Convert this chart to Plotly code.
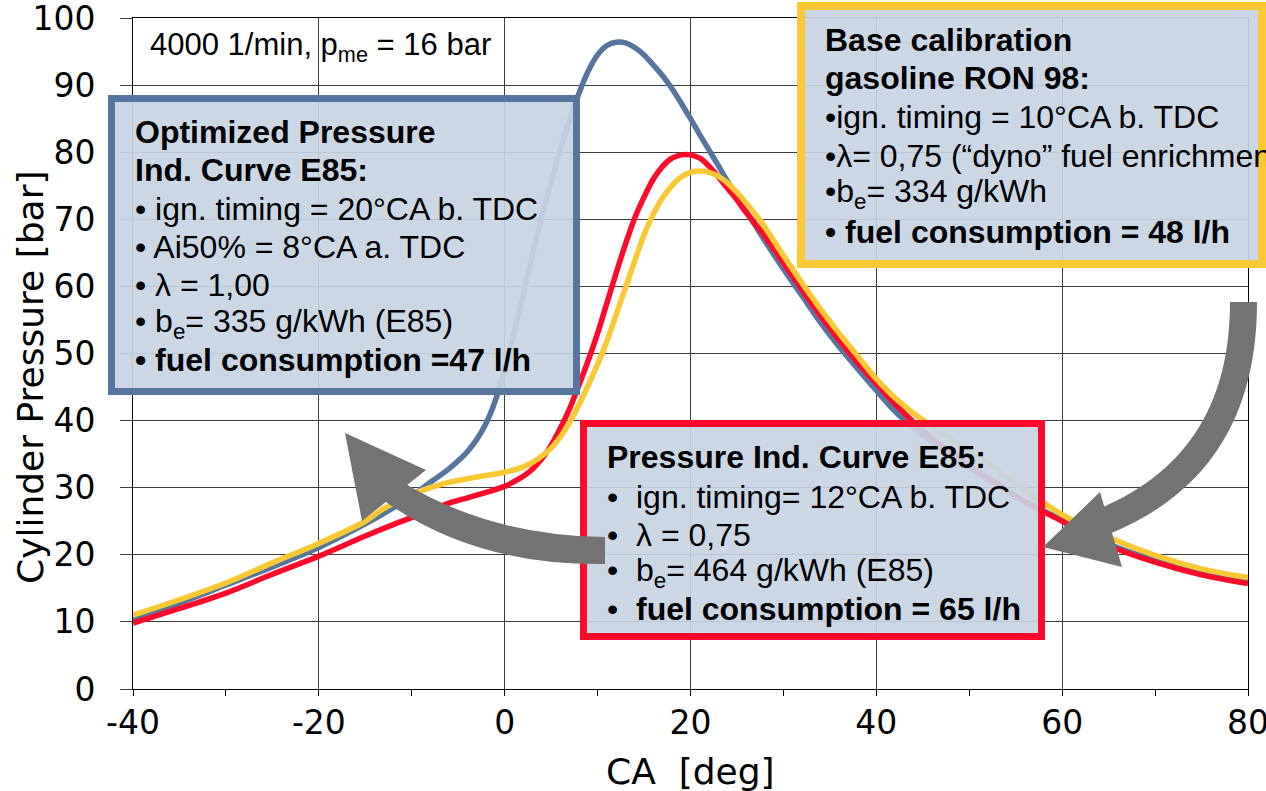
import plotly.graph_objects as go

# Cylinder pressure traces at 4000 1/min, pme = 16 bar
# crank angle [deg] and pressure [bar] per calibration

# Optimized pressure indication curve, E85
ca_opt = [-40, -35, -30, -25, -20, -15, -12, -10, -8, -6, -5, -4, -3, -2, -1, 0, 1, 2, 3, 4,
          5, 6, 7, 8, 9, 10, 11, 12, 13, 14, 15, 16, 17, 18, 19, 20, 21, 22, 23, 24, 25, 26,
          28, 30, 32, 34, 36, 38, 40, 42, 44, 46, 48, 50, 53, 56, 60, 65, 70, 75, 80]
p_opt = [10.3, 12.8, 15.5, 18.2, 21.1, 24.6, 27.0, 28.8, 30.8, 32.8, 34.0, 35.4, 37.2, 39.6,
         43.0, 47.6, 53.0, 58.8, 64.8, 70.4, 75.5, 80.4, 84.9, 88.8, 92.1, 94.5, 95.9, 96.4,
         96.3, 95.6, 94.5, 93.0, 91.4, 89.5, 87.3, 85.0, 82.6, 80.3, 78.0, 75.6, 73.4, 71.2,
         66.8, 62.6, 58.6, 54.6, 51.0, 47.7, 44.5, 41.4, 38.9, 36.8, 34.9, 33.0, 30.4, 27.9,
         25.2, 21.6, 19.2, 17.4, 16.0]

# Pressure indication curve, E85 (lambda 0.75)
ca_e85 = [-40, -35, -30, -25, -20, -15, -12, -8, -6, -4, -2, 0, 1, 2, 3, 4, 5, 6, 7, 8, 9,
          10, 11, 12, 13, 14, 15, 16, 17, 18, 19, 20, 21, 22, 23, 24, 25, 26, 28, 30, 32,
          34, 36, 38, 40, 42, 44, 46, 48, 50, 53, 56, 60, 65, 70, 75, 80]
p_e85 = [9.8, 12.0, 14.3, 17.1, 19.8, 22.8, 24.5, 26.6, 27.7, 28.5, 29.3, 30.2, 30.9, 31.7,
         32.8, 34.3, 36.3, 38.9, 41.8, 45.3, 49.0, 53.0, 57.5, 62.0, 66.3, 70.2, 73.3, 76.0,
         77.9, 79.1, 79.6, 79.6, 79.1, 77.9, 76.3, 74.6, 72.9, 71.0, 67.5, 63.5, 59.5, 55.6,
         52.0, 48.6, 45.5, 42.5, 39.8, 37.4, 35.2, 33.3, 30.6, 27.9, 25.0, 21.4, 18.9, 17.0,
         15.7]

# Base calibration, gasoline RON 98
ca_ron98 = [-40, -35, -30, -25, -20, -15, -13, -10, -8, -6, -3, 0, 2, 3.5, 5, 6.3, 7.5, 8.5,
            9.5, 11, 12, 13, 14, 15, 16, 17, 18, 19, 20, 21, 22, 23, 24, 25, 26, 27.5, 30,
            32, 34, 36, 38, 40, 42, 44, 46, 48, 50, 53, 56, 60, 65, 70, 75, 80]
p_ron98 = [11.0, 13.3, 15.8, 18.8, 21.7, 25.0, 26.9, 29.0, 30.0, 30.8, 31.6, 32.3, 33.1, 34.2,
           35.9, 38.2, 41.0, 43.8, 46.8, 51.8, 55.8, 59.8, 63.8, 67.7, 70.8, 73.2, 75.0, 76.3,
           77.0, 77.2, 77.0, 76.4, 75.4, 74.0, 72.4, 69.8, 64.6, 60.5, 56.6, 53.0, 49.6, 46.2,
           43.4, 41.1, 39.1, 37.2, 35.4, 32.7, 29.6, 26.0, 22.6, 19.9, 17.9, 16.6]

x_tick_vals = [-40, -20, 0, 20, 40, 60, 80]
x_tick_labels = ["-40", "-20", "0", "20", "40", "60", "80"]
x_minor_ticks = [-30, -10, 10, 30, 50, 70]
y_tick_vals = [0, 10, 20, 30, 40, 50, 60, 70, 80, 90, 100]

operating_point = "4000 1/min, p<sub>me</sub> = 16 bar"

opt_text = ["<b>Optimized Pressure</b>",
            "<b>Ind. Curve E85:</b>",
            "• ign. timing = 20°CA b. TDC",
            "• Ai50% = 8°CA a. TDC",
            "• λ = 1,00",
            "• b<sub>e</sub>= 335 g/kWh (E85)",
            "<b>• fuel consumption =47 l/h</b>"]
e85_text = ["<b>Pressure Ind. Curve E85:</b>",
            "•\u00a0 ign. timing= 12°CA b. TDC",
            "•\u00a0 λ = 0,75",
            "•\u00a0 b<sub>e</sub>= 464 g/kWh (E85)",
            "•\u00a0 <b>fuel consumption = 65 l/h</b>"]
ron98_text = ["<b>Base calibration</b>",
              "<b>gasoline RON 98:</b>",
              "•ign. timing = 10°CA b. TDC",
              "•λ= 0,75 (“dyno” fuel enrichment)",
              "•b<sub>e</sub>= 334 g/kWh",
              "<b>• fuel consumption = 48 l/h</b>"]

BLUE = "#57769f"
RED = "#ff0a2a"
YELLOW = "#f9c832"
GRAY = "#737373"
BOX_FILL = "rgba(200,212,228,0.92)"
GRID = "#3c3c3c"
TEXT_FONT = "Liberation Sans"
AXIS_FONT = "DejaVu Sans"

W, H = 1266, 791
L, R, T, B = 133, 1248, 18, 689


def fx(x):
    return (x - L) / (R - L)


def fy(y):
    return (B - y) / (B - T)


def pt(x, y):
    return f"{fx(x):.5f},{fy(y):.5f}"


fig = go.Figure()
for xs, ys, col in [(ca_opt, p_opt, BLUE), (ca_e85, p_e85, RED), (ca_ron98, p_ron98, YELLOW)]:
    fig.add_trace(go.Scatter(x=xs, y=ys, mode="lines",
                             line=dict(color=col, width=5.5, shape="spline", smoothing=0.9),
                             showlegend=False, hoverinfo="skip"))

shapes = []
# text boxes
for x0, y0, x1, y1, col, lw in [(111.5, 98.5, 576.5, 391.5, BLUE, 7),
                                (801, 6, 1262, 264, YELLOW, 8),
                                (583.5, 423.5, 1041.5, 636.5, RED, 7)]:
    shapes.append(dict(type="rect", xref="paper", yref="paper",
                       x0=fx(x0), x1=fx(x1), y0=fy(y1), y1=fy(y0),
                       line=dict(color=col, width=lw), fillcolor=BOX_FILL, layer="above"))

# curved arrow from the E85 box towards the optimized curve
arrow1_band = (f"M {pt(605,537)} L {pt(605,564)} Q {pt(475,566)} {pt(383,500)} "
               f"L {pt(404,483)} Q {pt(492,536)} {pt(605,537)} Z")
arrow1_head = f"M {pt(345,433)} L {pt(426,470)} L {pt(362,521)} Z"
# curved arrow from the base calibration box towards the curve tail
arrow2_band = (f"M {pt(1230,302)} L {pt(1257,302)} C {pt(1257,420)} {pt(1205,495)} {pt(1109,534)} "
               f"L {pt(1101,508)} C {pt(1190,470)} {pt(1230,400)} {pt(1230,302)} Z")
arrow2_head = f"M {pt(1043,547)} L {pt(1100,492)} L {pt(1122,567)} Z"
for p in [arrow1_band, arrow1_head, arrow2_band, arrow2_head]:
    shapes.append(dict(type="path", xref="paper", yref="paper", path=p,
                       fillcolor=GRAY, line=dict(width=0), layer="above"))

annotations = []


def add_lines(lines, x, ys, size):
    for s, y in zip(lines, ys):
        annotations.append(dict(text=s, xref="paper", yref="paper", x=fx(x), y=fy(y),
                                xanchor="left", yanchor="middle", showarrow=False,
                                font=dict(family=TEXT_FONT, size=size, color="black")))


add_lines(opt_text, 133, [132, 170, 209, 247, 285, 323, 360], 32)
add_lines(e85_text, 605, [457, 497, 535, 572, 609], 32)
add_lines(ron98_text, 823, [40, 78, 117, 156, 193, 232], 32)
add_lines([operating_point], 148, [47], 31)

# axis titles
annotations.append(dict(text="Cylinder Pressure [bar]", xref="paper", yref="paper",
                        x=fx(30), y=fy(378), textangle=-90, showarrow=False,
                        xanchor="center", yanchor="middle",
                        font=dict(family=AXIS_FONT, size=36, color="black")))
annotations.append(dict(text="CA\u00a0\u00a0[deg]", xref="paper", yref="paper",
                        x=fx(690), y=fy(771), showarrow=False,
                        xanchor="center", yanchor="middle",
                        font=dict(family=AXIS_FONT, size=36, color="black")))

fig.update_layout(
    width=W, height=H,
    margin=dict(l=L, r=W - R, t=T, b=H - B, autoexpand=False),
    paper_bgcolor="white", plot_bgcolor="white",
    shapes=shapes, annotations=annotations,
    xaxis=dict(range=[-40, 80], tickvals=x_tick_vals, ticktext=x_tick_labels,
               ticks="outside", ticklen=6, tickcolor="black", tickwidth=1,
               showgrid=True, gridcolor=GRID, gridwidth=1, zeroline=False,
               showline=True, linecolor="black", linewidth=1, mirror=True,
               minor=dict(tickvals=x_minor_ticks, ticks="outside", ticklen=6,
                          tickcolor="black", showgrid=False),
               tickfont=dict(family=AXIS_FONT, size=33, color="black"),
               ticklabelstandoff=-2, ticklabeloverflow="allow", automargin=False),
    yaxis=dict(range=[0, 100], tickvals=y_tick_vals,
               ticks="outside", ticklen=12, tickcolor=GRID, tickwidth=1,
               showgrid=True, gridcolor=GRID, gridwidth=1, zeroline=False,
               showline=True, linecolor="black", linewidth=1, mirror=True,
               tickfont=dict(family=AXIS_FONT, size=33, color="black"),
               ticklabelstandoff=18, ticklabeloverflow="allow", automargin=False),
)

fig.write_html("out.html")
